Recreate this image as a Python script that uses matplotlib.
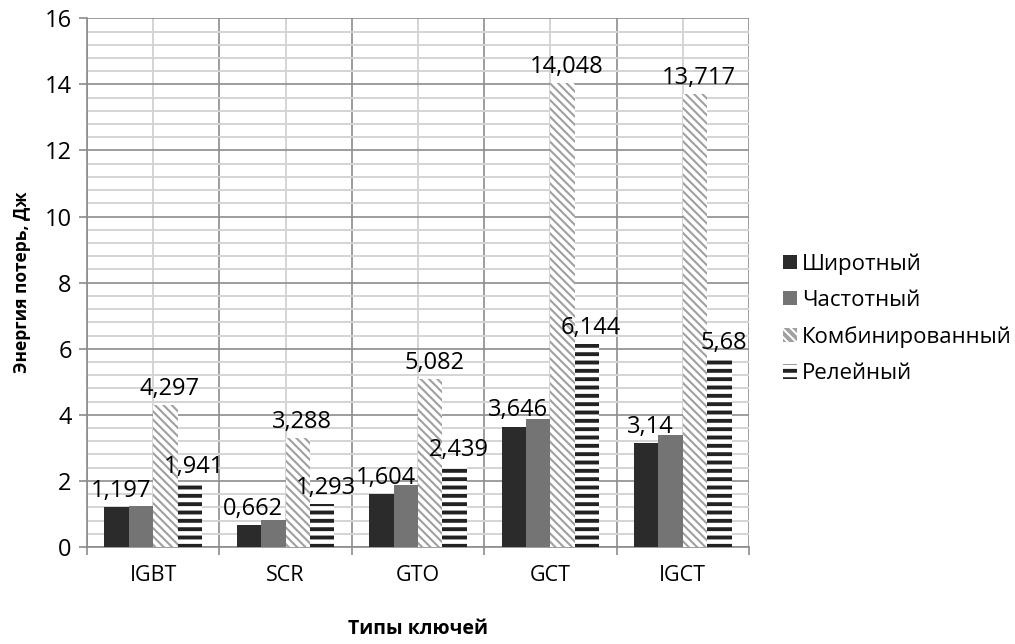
import matplotlib
matplotlib.use("Agg")
import matplotlib.pyplot as plt
import numpy as np
from matplotlib.ticker import MultipleLocator, FixedLocator

plt.rcParams['font.family'] = ['Open Sans', 'DejaVu Sans']

categories = ['IGBT', 'SCR', 'GTO', 'GCT', 'IGCT']
series_names = ['Широтный', 'Частотный', 'Комбинированный', 'Релейный']
shirotny = [1.197, 0.662, 1.604, 3.646, 3.14]
chastotny = [1.23, 0.81, 1.87, 3.87, 3.38]
kombinirovanny = [4.297, 3.288, 5.082, 14.048, 13.717]
releyny = [1.941, 1.293, 2.439, 6.144, 5.68]
labels_shirotny = ['1,197', '0,662', '1,604', '3,646', '3,14']
labels_komb = ['4,297', '3,288', '5,082', '14,048', '13,717']
labels_rel = ['1,941', '1,293', '2,439', '6,144', '5,68']

fig = plt.figure(figsize=(10.15, 6.44), dpi=100)
ax = fig.add_axes([0.0857, 0.1506, 0.738 - 0.0857, 0.9716 - 0.1506])

x = np.arange(len(categories))
w = 0.184


def hatched(vals, offset, hatch, color, lw):
    plt.rcParams['hatch.linewidth'] = lw
    bars = ax.bar(x + offset * w, vals, w, facecolor='white', edgecolor=color,
                  linewidth=0, hatch=hatch, zorder=3)
    for b in bars:
        if hasattr(b, 'set_hatch_linewidth'):
            b.set_hatch_linewidth(lw)
    return bars


b1 = ax.bar(x - 1.5 * w, shirotny, w, color='#2b2b2b', zorder=3)
b2 = ax.bar(x - 0.5 * w, chastotny, w, color='#747474', zorder=3)
b3 = hatched(kombinirovanny, 0.5, '\\\\\\\\', '#a0a0a0', 1.5)
b4 = hatched(releyny, 1.5, '--', '#222222', 2.8)

for bars, labs in [(b1, labels_shirotny), (b3, labels_komb), (b4, labels_rel)]:
    for b, lab in zip(bars, labs):
        ax.annotate(lab, (b.get_x() + b.get_width() / 2, b.get_height()),
                    xytext=(3, 3), textcoords='offset points',
                    ha='center', va='bottom', fontsize=17, zorder=5)

ax.set_ylim(0, 16)
ax.set_xlim(-0.5, 4.5)
ax.yaxis.set_major_locator(MultipleLocator(2))
ax.yaxis.set_minor_locator(MultipleLocator(0.4))
ax.set_xticks(x)
ax.set_xticklabels(categories)
ax.xaxis.set_minor_locator(FixedLocator(np.arange(-0.5, 5, 1)))

ax.grid(which='major', axis='y', color='#8c8c8c', linewidth=1.2, zorder=1)
ax.grid(which='minor', axis='y', color='#d4d4d4', linewidth=1.4, zorder=0)
ax.grid(which='minor', axis='x', color='#8c8c8c', linewidth=1.2, zorder=1)
ax.grid(which='major', axis='x', color='#d4d4d4', linewidth=1.4, zorder=0)
ax.set_axisbelow(True)

for s in ['top', 'right']:
    ax.spines[s].set_visible(False)
for s in ['left', 'bottom']:
    ax.spines[s].set_color('#8c8c8c')
    ax.spines[s].set_linewidth(1.2)

ax.tick_params(axis='y', which='major', length=6, color='#8c8c8c', width=1.2,
               labelsize=17, pad=5)
ax.tick_params(axis='y', which='minor', length=0)
ax.tick_params(axis='x', which='major', length=0, labelsize=15.5, pad=13)
ax.tick_params(axis='x', which='minor', length=6, color='#8c8c8c', width=1.2)

ax.set_ylabel('Энергия потерь, Дж', fontsize=12.5, fontweight='bold', labelpad=10)
ax.set_xlabel('Типы ключей', fontsize=14, fontweight='bold', labelpad=24)

ax.legend([b1, b2, b3, b4], series_names, loc='upper left',
          bbox_to_anchor=(0.763, 0.62), bbox_transform=fig.transFigure,
          frameon=False, fontsize=16, handlelength=0.6, handleheight=0.6,
          handletextpad=0.25, labelspacing=0.68, borderaxespad=0)

fig.savefig('out.png', dpi=100)
